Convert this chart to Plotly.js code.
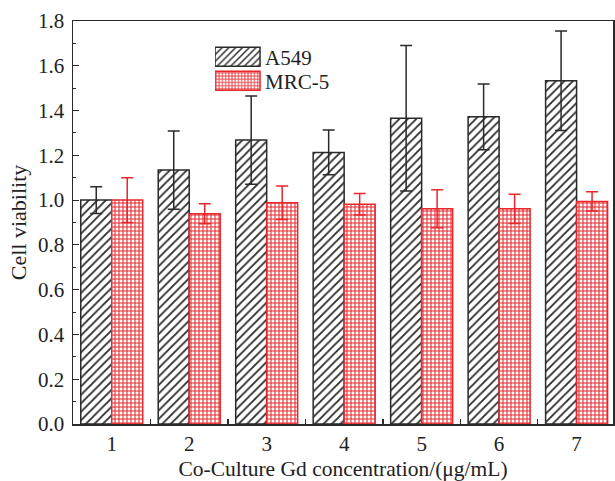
<!DOCTYPE html>
<html>
<head>
<meta charset="utf-8">
<script src="https://cdn.plot.ly/plotly-3.0.1.min.js"></script>
<style>html,body{margin:0;padding:0;background:#fff;}#chart{width:615px;height:481px;}</style>
</head>
<body>
<div id="chart"></div>
<script>
var categories = [1, 2, 3, 4, 5, 6, 7];
var a549 = [1.0, 1.134, 1.268, 1.213, 1.366, 1.372, 1.533];
var a549Err = [0.06, 0.175, 0.197, 0.10, 0.325, 0.147, 0.222];
var mrc5 = [1.0, 0.939, 0.988, 0.981, 0.961, 0.961, 0.994];
var mrc5Err = [0.10, 0.045, 0.075, 0.048, 0.085, 0.065, 0.043];
var seriesNames = ['A549', 'MRC-5'];
var boundaryTicks = [1.5, 2.5, 3.5, 4.5, 5.5, 6.5];

var red = '#e8262b';
var dark = '#2a2a2a';
var font = 'Liberation Serif, Times New Roman, serif';

var traces = [
  {
    type: 'bar', name: seriesNames[0], x: categories, y: a549,
    error_y: {type: 'data', array: a549Err, visible: true, color: dark, thickness: 1.5, width: 6},
    marker: {color: 'white', line: {color: dark, width: 1.5},
      pattern: {shape: '/', fgcolor: dark, bgcolor: 'white', size: 6, solidity: 0.3}}
  },
  {
    type: 'bar', name: seriesNames[1], x: categories, y: mrc5,
    error_y: {type: 'data', array: mrc5Err, visible: true, color: red, thickness: 1.5, width: 6},
    marker: {color: 'white', line: {color: red, width: 1.5},
      pattern: {shape: '+', fgcolor: red, bgcolor: 'white', size: 4, solidity: 0.45}}
  }
];

var layout = {
  width: 615, height: 481,
  margin: {l: 73, r: 2, t: 21, b: 57},
  paper_bgcolor: 'white', plot_bgcolor: 'white',
  font: {family: font, size: 21, color: '#222'},
  barmode: 'group', bargap: 0.2, bargroupgap: 0,
  showlegend: true,
  legend: {x: 0.263, y: 0.961, xanchor: 'left', yanchor: 'top', bgcolor: 'rgba(0,0,0,0)',
    font: {family: font, size: 21, color: '#222'}, tracegroupgap: 0, itemwidth: 40},
  xaxis: {
    range: [0.5, 7.47], tickmode: 'array', tickvals: categories, ticktext: categories.map(String),
    showgrid: false, zeroline: false, showline: true, linecolor: dark, linewidth: 1.5, mirror: true,
    ticks: '', tickfont: {family: font, size: 21, color: '#222'},
    minor: {tickmode: 'array', tickvals: boundaryTicks, ticks: 'inside', ticklen: 5, tickwidth: 1.2, tickcolor: dark},
    title: {text: 'Co-Culture Gd concentration/(μg/mL)', font: {family: font, size: 21.5, color: '#222'}, standoff: 8}
  },
  yaxis: {
    range: [0, 1.8], dtick: 0.2, tickformat: '.1f',
    showgrid: false, zeroline: false, showline: true, linecolor: dark, linewidth: 1.5, mirror: true,
    ticks: 'inside', ticklen: 6, tickwidth: 1.2, tickcolor: dark, ticklabelstandoff: 3,
    minor: {dtick: 0.1, ticks: 'inside', ticklen: 3, tickwidth: 1, tickcolor: dark},
    tickfont: {family: font, size: 21, color: '#222'},
    title: {text: 'Cell viability', font: {family: font, size: 22, color: '#222'}, standoff: 5}
  }
};

Plotly.newPlot('chart', traces, layout, {displayModeBar: false, staticPlot: true}).then(function () {
  document.querySelectorAll('.legend .legendpoints path').forEach(function (p) {
    p.setAttribute('d', 'M20,9.5H-25V-9.5H20Z');
  });
  var items = document.querySelectorAll('.legend .traces');
  if (items.length === 2) {
    var t0 = items[0].getAttribute('transform') || '';
    var m = /translate\(\s*([-\d.]+)[ ,]+([-\d.]+)\s*\)/.exec(t0);
    if (m) {
      var x0 = parseFloat(m[1]), y0 = parseFloat(m[2]);
      items[1].setAttribute('transform', 'translate(' + x0 + ',' + (y0 + 24) + ')');
    }
  }
});
</script>
</body>
</html>
